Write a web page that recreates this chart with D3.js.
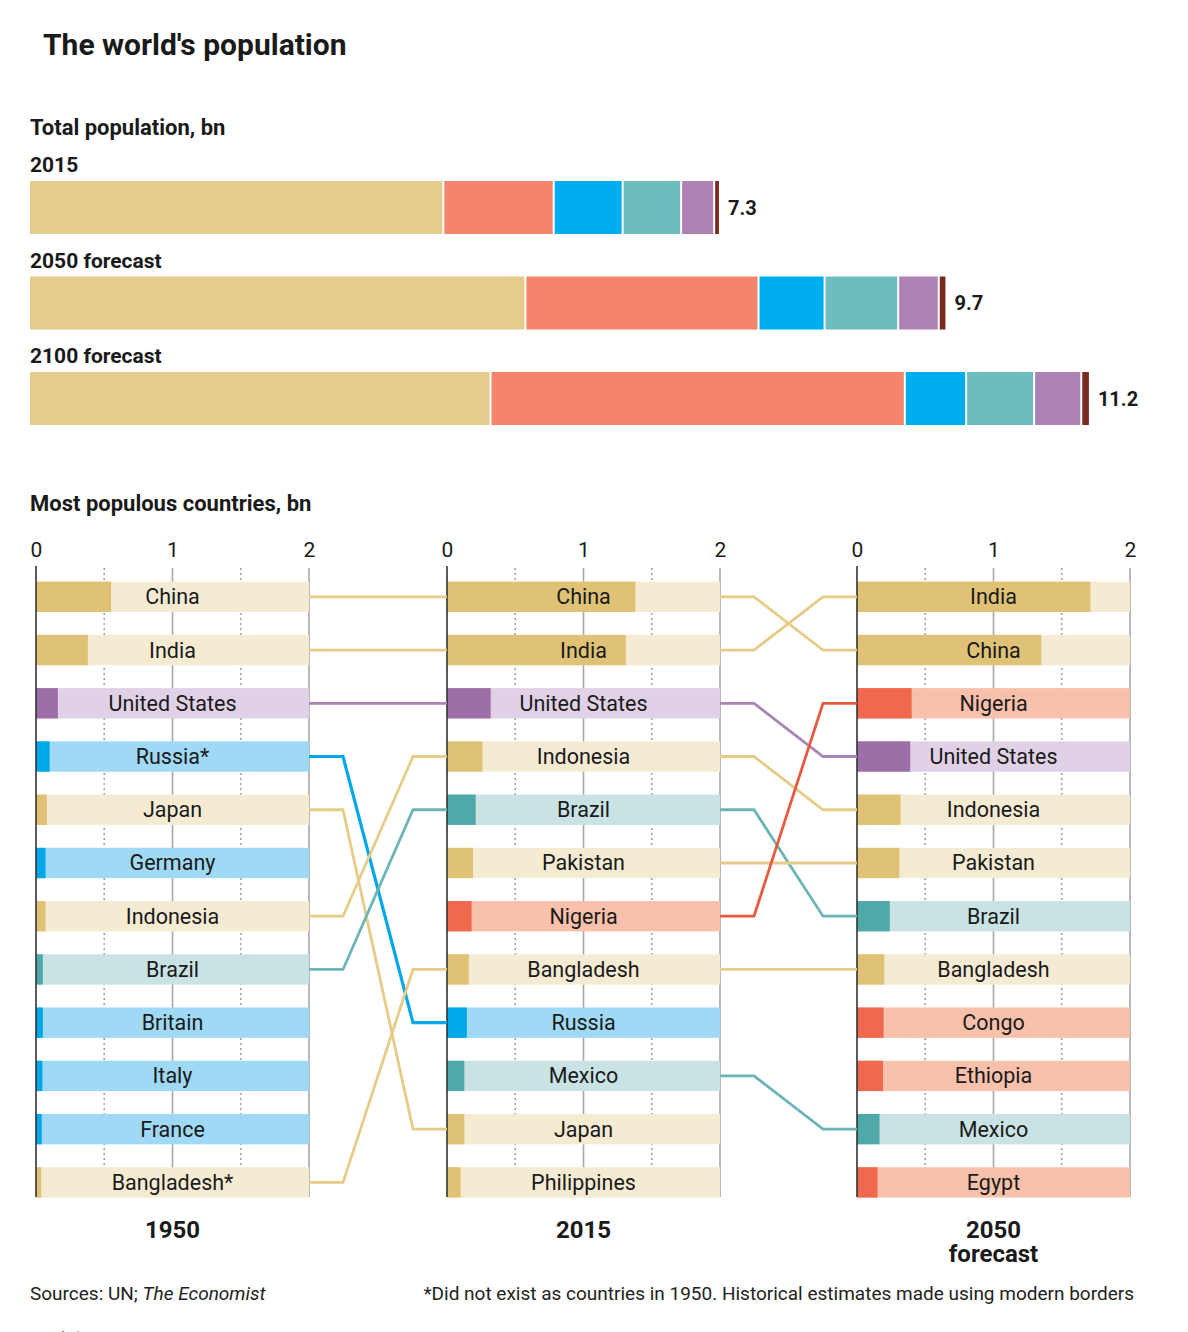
<!DOCTYPE html>
<html><head><meta charset="utf-8">
<script src="https://cdn.jsdelivr.net/npm/d3@7"></script>
<style>
body{margin:0;background:#fff;}
svg{display:block;font-family:Roboto,"Noto Sans",sans-serif;}
</style></head>
<body>
<svg id="chart" width="1188" height="1332"></svg>
<script>
// ---------- Data ----------
const regions = ["Asia","Africa","Europe","Latin America","North America","Oceania"];
const totalLabels = ["2015","2050 forecast","2100 forecast"];
const totals = [7.3, 9.7, 11.2];
const asiaTotals = [4.39, 5.26, 4.89];
const africaTotals = [1.17, 2.47, 4.39];
const europeTotals = [0.73, 0.70, 0.65];
const latamTotals = [0.62, 0.78, 0.72];
const northAmTotals = [0.35, 0.43, 0.50];
const oceaniaTotals = [0.04, 0.06, 0.07];

const countries1950 = ["China","India","United States","Russia*","Japan","Germany","Indonesia","Brazil","Britain","Italy","France","Bangladesh*"];
const values1950 = [0.55,0.38,0.16,0.10,0.08,0.07,0.07,0.05,0.05,0.047,0.042,0.038];
const regions1950 = ["Asia","Asia","North America","Europe","Asia","Europe","Asia","Latin America","Europe","Europe","Europe","Asia"];
const countries2015 = ["China","India","United States","Indonesia","Brazil","Pakistan","Nigeria","Bangladesh","Russia","Mexico","Japan","Philippines"];
const values2015 = [1.38,1.31,0.32,0.26,0.21,0.19,0.18,0.16,0.145,0.127,0.127,0.10];
const regions2015 = ["Asia","Asia","North America","Asia","Latin America","Asia","Africa","Asia","Europe","Latin America","Asia","Asia"];
const countries2050 = ["India","China","Nigeria","United States","Indonesia","Pakistan","Brazil","Bangladesh","Congo","Ethiopia","Mexico","Egypt"];
const values2050 = [1.71,1.35,0.40,0.39,0.32,0.31,0.24,0.20,0.195,0.19,0.165,0.15];
const regions2050 = ["Asia","Asia","Africa","North America","Asia","Asia","Latin America","Asia","Africa","Africa","Latin America","Africa"];
const axisTicks = [0,1,2];

// ---------- Styles ----------
const topColors = {"Asia":"#e5cc8a","Africa":"#f4856a","Europe":"#00aeef","Latin America":"#6dbdbf","North America":"#ae82b5","Oceania":"#7a2a1a"};
const darkColors = {"Asia":"#dfc276","Africa":"#f0684d","Europe":"#00a8e8","Latin America":"#4fa9a9","North America":"#9d6fa9"};
const lightColors = {"Asia":"#f5ebd3","Africa":"#f9c0ab","Europe":"#9fd9f5","Latin America":"#c9e3e5","North America":"#e0d1e6"};
const lineColors = {"Asia":"#e6cc87","Africa":"#e85a3f","Europe":"#00a8e8","Latin America":"#6bb5b8","North America":"#a985b6"};

const svg = d3.select("#chart");
const ink = "#1a1a1a";

// Title
svg.append("text").attr("x",43).attr("y",55).attr("font-size",30).attr("font-weight",700)
  .attr("fill",ink).text("The world's population");

// ---------- Top stacked bars ----------
svg.append("text").attr("x",30).attr("y",135).attr("font-size",22).attr("font-weight",700)
  .attr("fill",ink).text("Total population, bn");

const xTop = d3.scaleLinear().domain([0,11.2]).range([30,1087]);
const yTop = d3.scaleBand().domain(totalLabels).range([181,467.5]).paddingInner(0.445).paddingOuter(0.2225).align(0);
const regionSeries = [asiaTotals,africaTotals,europeTotals,latamTotals,northAmTotals,oceaniaTotals];

totalLabels.forEach((lab,i)=>{
  const y = yTop(lab), h = yTop.bandwidth();
  svg.append("text").attr("x",30).attr("y",y-9).attr("font-size",21).attr("font-weight",700)
    .attr("fill",ink).text(lab);
  let cum = 0;
  regions.forEach((r,j)=>{
    const v = regionSeries[j][i];
    const x0 = xTop(cum), x1 = xTop(cum+v);
    const w = j < regions.length-1 ? Math.max(0,x1-x0-2) : Math.max(3,x1-x0);
    svg.append("rect").attr("x",x0).attr("y",y).attr("width",w).attr("height",h).attr("fill",topColors[r]);
    cum += v;
  });
  svg.append("text").attr("x",xTop(cum)+9).attr("y",y+h/2+7).attr("font-size",20).attr("font-weight",700)
    .attr("fill",ink).text(totals[i]);
});

// ---------- Bottom panels ----------
svg.append("text").attr("x",30).attr("y",511).attr("font-size",22).attr("font-weight",700)
  .attr("fill",ink).text("Most populous countries, bn");

const panelStarts = [36,447,857];
const panelWidth = 273;
const rowsTop = 571, rowStep = 53.1;
const nRows = 12;
const yRow = d3.scaleBand().domain(d3.range(nRows)).range([rowsTop, rowsTop+rowStep*nRows]).paddingInner(0.43).paddingOuter(0.2);
const panelData = [
  {names:countries1950, vals:values1950, regs:regions1950, label:["1950"]},
  {names:countries2015, vals:values2015, regs:regions2015, label:["2015"]},
  {names:countries2050, vals:values2050, regs:regions2050, label:["2050","forecast"]}
];
const xScales = panelStarts.map(s=>d3.scaleLinear().domain([0,2]).range([s,s+panelWidth]));
const gridTop = 568, gridBot = 1197;

panelData.forEach((p,pi)=>{
  const x = xScales[pi];
  const g = svg.append("g");
  [0.5,1.5].forEach(t=>{
    g.append("line").attr("x1",x(t)).attr("x2",x(t)).attr("y1",gridTop).attr("y2",gridBot)
      .attr("stroke","#a0a0a0").attr("stroke-width",1.6).attr("stroke-dasharray","2,3");
  });
  [1,2].forEach(t=>{
    g.append("line").attr("x1",x(t)).attr("x2",x(t)).attr("y1",gridTop).attr("y2",gridBot)
      .attr("stroke","#a8a8a8").attr("stroke-width",1.6);
  });
  const ax = d3.axisTop(x).tickValues(axisTicks).tickSize(0).tickPadding(0).tickFormat(d3.format("d"));
  const axg = svg.append("g").attr("transform",`translate(0,557)`).call(ax);
  axg.select(".domain").remove();
  axg.selectAll("text").attr("font-size",21).attr("fill",ink).attr("font-family","Roboto,sans-serif");
  p.names.forEach((n,i)=>{
    const y = yRow(i), h = yRow.bandwidth();
    const r = p.regs[i];
    g.append("rect").attr("x",x(0)).attr("y",y).attr("width",x(2)-x(0)).attr("height",h).attr("fill",lightColors[r]);
    g.append("rect").attr("x",x(0)).attr("y",y).attr("width",x(p.vals[i])-x(0)).attr("height",h).attr("fill",darkColors[r]);
    g.append("text").attr("x",x(1)).attr("y",y+h/2+7.5).attr("text-anchor","middle").attr("font-size",21.5)
      .attr("fill",ink).text(n);
  });
  g.append("line").attr("x1",x(0)).attr("x2",x(0)).attr("y1",566).attr("y2",gridBot)
    .attr("stroke","#333").attr("stroke-width",1.6);
  const yl = svg.append("text").attr("x",x(1)).attr("y",1238).attr("text-anchor","middle").attr("font-size",24)
    .attr("font-weight",700).attr("fill",ink);
  p.label.forEach((l,k)=>{
    yl.append("tspan").attr("x",x(1)).attr("dy",k===0?0:24).text(l);
  });
});

// connectors
const clean = s=>s.replace("*","");
for (let pi=0; pi<2; pi++){
  const a = panelData[pi], b = panelData[pi+1];
  const xa = xScales[pi](2), xb = xScales[pi+1](0);
  a.names.forEach((n,i)=>{
    const j = b.names.map(clean).indexOf(clean(n));
    if (j<0) return;
    const ya = yRow(i)+yRow.bandwidth()/2, yb = yRow(j)+yRow.bandwidth()/2;
    const pts = [[xa,ya],[xa+34,ya],[xb-34,yb],[xb,yb]];
    svg.append("path").attr("d",d3.line()(pts)).attr("fill","none")
      .attr("stroke",lineColors[a.regs[i]]).attr("stroke-width",a.regs[i]==="Europe"?3.2:2.8)
      .attr("stroke-linejoin","miter");
  });
}

// footer
const src = svg.append("text").attr("x",30).attr("y",1300).attr("font-size",19).attr("fill","#222");
src.append("tspan").text("Sources: UN; ");
src.append("tspan").attr("font-style","italic").text("The Economist");
svg.append("text").attr("x",1134).attr("y",1300).attr("text-anchor","end").attr("font-size",19).attr("fill","#222")
  .text("*Did not exist as countries in 1950. Historical estimates made using modern borders");
svg.append("text").attr("x",-8).attr("y",1344).attr("font-size",19).attr("fill","#555").text("economist.com");
</script>
</body></html>
